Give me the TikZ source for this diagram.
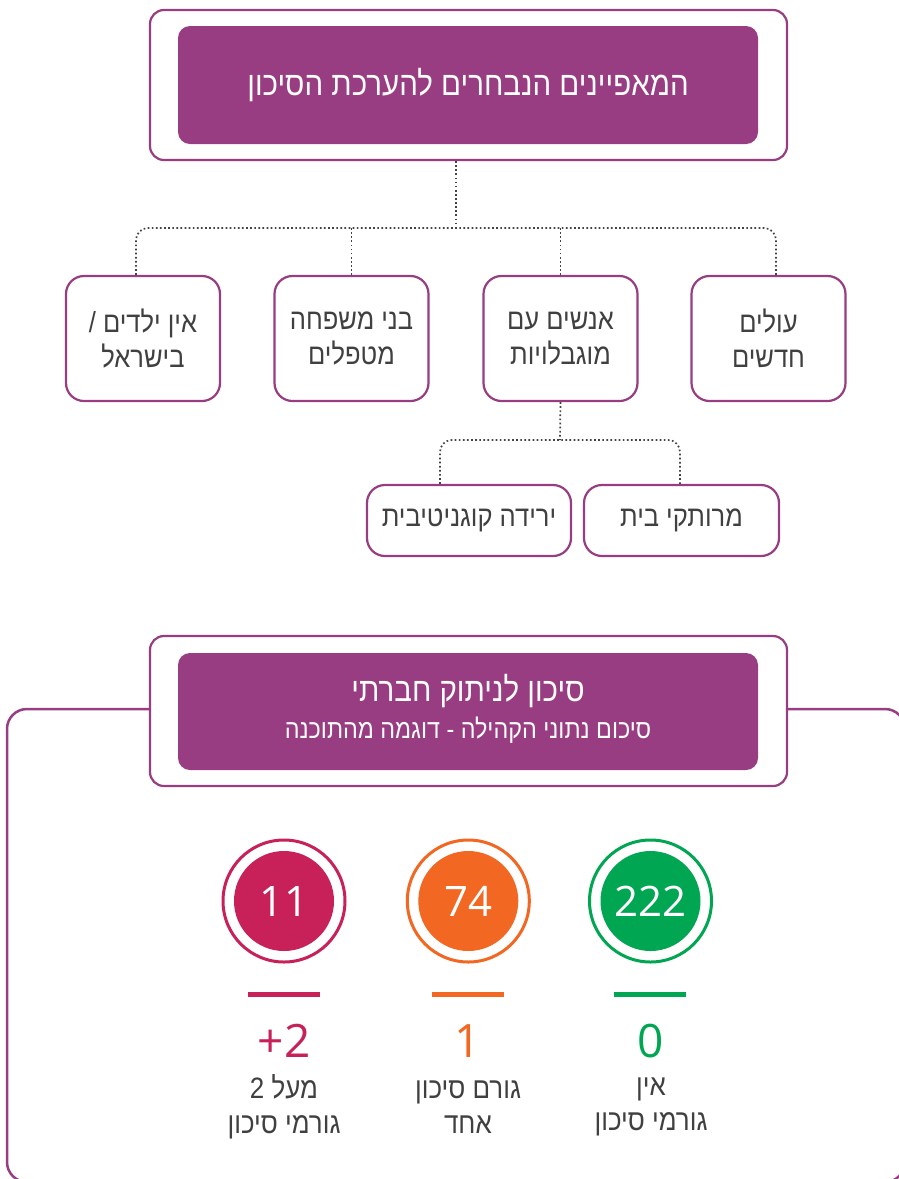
\documentclass[tikz,border=0pt]{standalone}
\usepackage{fontspec}
\setmainfont{Open Sans}
\newfontfamily\heb[Script=Hebrew,FakeStretch=0.88]{Liberation Sans}
\TeXXeTstate=1
\newcommand{\hb}[1]{{\heb\beginR #1\endR}}
\definecolor{purp}{HTML}{993D82}
\definecolor{pinkc}{HTML}{C8215A}
\definecolor{orngc}{HTML}{F26722}
\definecolor{grnc}{HTML}{00A651}
\definecolor{txtc}{HTML}{404040}
\definecolor{connc}{HTML}{444444}
\tikzset{
  outerbox/.style={draw=purp, line width=2.2pt, rounded corners=14pt, fill=white, inner sep=0pt},
  innerbox/.style={fill=purp, rounded corners=12pt, text=white, inner sep=0pt, align=center},
  leaf/.style={draw=purp, line width=2.2pt, rounded corners=18pt, fill=white, text=txtc, align=center, inner sep=0pt, font=\fontsize{29}{35}\selectfont},
  connector/.style={draw=connc, line width=1.7pt, dash pattern=on 1.7pt off 2.4pt},
  ring/.style={circle, line width=3pt, minimum size=122pt, inner sep=0pt},
  disc/.style={circle, minimum size=100pt, inner sep=0pt, text=white, font=\fontsize{42}{42}\selectfont},
  bar/.style={line width=5pt},
  bignum/.style={font=\fontsize{46}{46}\selectfont, inner sep=0pt},
  lbl/.style={text=txtc, align=center, inner sep=0pt, font=\fontsize{29.5}{35}\selectfont}
}
\begin{document}
\begin{tikzpicture}[x=1pt,y=-1pt]
\useasboundingbox[fill=white] (0,0) rectangle (899,1179);

% ---------- top section ----------
\node[outerbox, minimum width=637pt, minimum height=150pt] (topout) at (468.5,85) {};
\node[innerbox, minimum width=580pt, minimum height=118pt, font=\fontsize{33.5}{33.5}\selectfont] (toptitle) at (468,85) {\hb{המאפיינים הנבחרים להערכת הסיכון}};

\node[leaf, minimum width=154pt, minimum height=125pt] (b1) at (143,338.5) {\hb{אין ילדים /}\\\hb{בישראל}};
\node[leaf, minimum width=154pt, minimum height=125pt] (b2) at (351.5,338.5) {\hb{בני משפחה}\\\hb{מטפלים}};
\node[leaf, minimum width=154pt, minimum height=125pt] (b3) at (560.5,338.5) {\hb{אנשים עם}\\\hb{מוגבלויות}};
\node[leaf, minimum width=154pt, minimum height=125pt] (b4) at (768.5,338.5) {\hb{עולים}\\\hb{חדשים}};

\node[leaf, minimum width=204pt, minimum height=71pt] (b5) at (469,520.5) {\hb{ירידה קוגניטיבית}};
\node[leaf, minimum width=195pt, minimum height=71pt] (b6) at (681.5,520.5) {\hb{מרותקי בית}};

\coordinate (hub) at (456,228);
\coordinate (hub2) at (560,440);
\draw[connector] ([xshift=-12.5pt]topout.south) -- (hub);
\draw[connector, rounded corners=12pt] ([xshift=-7pt]b1.north) |- (hub) -| ([xshift=7.5pt]b4.north);
\draw[connector] (b2.north) -- (b2.north |- hub);
\draw[connector] (b3.north) -- (b3.north |- hub);
\draw[connector] (b3.south) -- (hub2);
\draw[connector, rounded corners=12pt] ([xshift=-29pt]b5.north) |- (hub2) -| ([xshift=-1.5pt]b6.north);

% ---------- bottom section ----------
\begin{scope}
\clip (0,0) rectangle (899,1179);
\draw[draw=purp, line width=2.5pt, rounded corners=20pt] (7,709) rectangle (905,1182);
\end{scope}

\node[outerbox, minimum width=637pt, minimum height=150pt] (botout) at (468.5,711) {};
\node[innerbox, minimum width=580pt, minimum height=117pt] (botbox) at (468,711.5) {};
\node[text=white, inner sep=0pt, font=\fontsize{33.5}{33.5}\selectfont] (bottitle) at (468,691) {\hb{סיכון לניתוק חברתי}};
\node[text=white, inner sep=0pt, font=\fontsize{26.5}{26.5}\selectfont] (botsub) at (468,730) {\hb{סיכום נתוני הקהילה - דוגמה מהתוכנה}};

% circles
\node[ring, draw=pinkc] (r1) at (284,901) {};
\node[disc, fill=pinkc] (c1) at (284,901) {11};
\node[ring, draw=orngc] (r2) at (468.3,901) {};
\node[disc, fill=orngc] (c2) at (468.3,901) {74};
\node[ring, draw=grnc] (r3) at (650.5,901) {};
\node[disc, fill=grnc] (c3) at (650.5,901) {222};

% bars
\coordinate (p1a) at (248,994.5); \coordinate (p1b) at (320,994.5);
\coordinate (p2a) at (432,994.5); \coordinate (p2b) at (504,994.5);
\coordinate (p3a) at (614,994.5); \coordinate (p3b) at (686,994.5);
\draw[bar, draw=pinkc] (p1a) -- (p1b);
\draw[bar, draw=orngc] (p2a) -- (p2b);
\draw[bar, draw=grnc] (p3a) -- (p3b);

% big numbers
\node[bignum, text=pinkc] (n1) at (284,1041) {+2};
\node[bignum, text=orngc] (n2) at (468,1041) {1};
\node[bignum, text=grnc] (n3) at (651,1041) {0};

% labels
\node[lbl] (l1) at (284,1107) {\hb{מעל 2}\\\hb{גורמי סיכון}};
\node[lbl] (l2) at (468,1107) {\hb{גורם סיכון}\\\hb{אחד}};
\node[lbl] (l3) at (651,1107) {\hb{אין}\\\hb{גורמי סיכון}};
\end{tikzpicture}
\end{document}
